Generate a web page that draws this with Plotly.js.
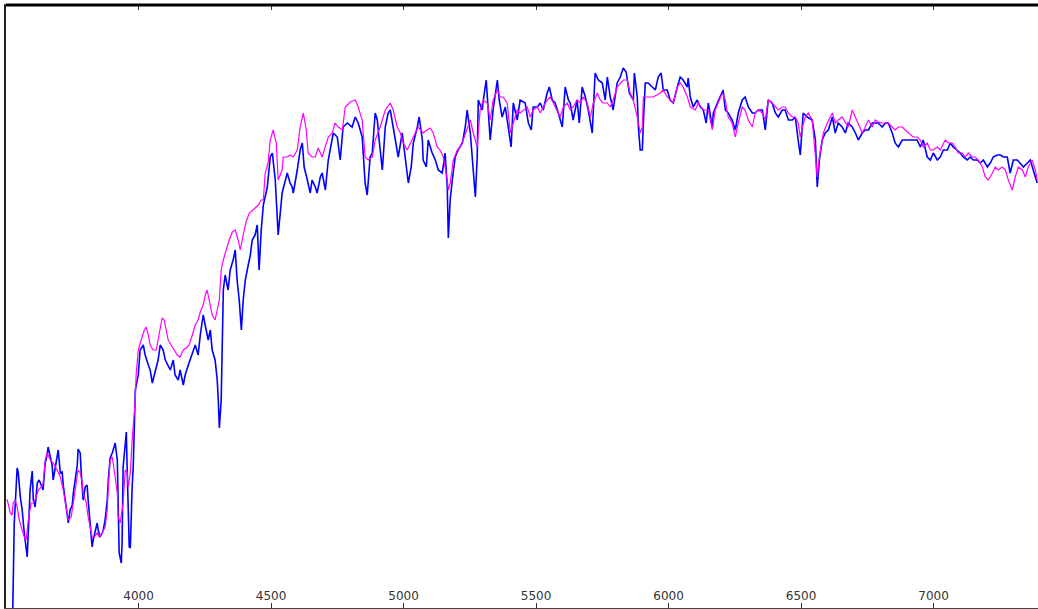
<!DOCTYPE html>
<html>
<head>
<meta charset="utf-8">
<script src="https://cdn.plot.ly/plotly-3.0.1.min.js"></script>
<style>html,body{margin:0;padding:0;background:#fff;}#chart{width:1038px;height:609px;}</style>
</head>
<body>
<div id="chart"></div>
<script>
// Observed spectrum (blue): wavelength (Angstrom) and relative flux (arbitrary units)
const obsWave = [3523,3527,3531,3542,3546,3554,3561,3569,3580,3584,3591,3599,3603,3610,3618,3625,3637,3640,3648,3655,3659,3667,3674,3678,3686,3693,3697,3705,3712,3716,3723,3731,3735,3742,3750,3754,3761,3769,3772,3780,3784,3791,3799,3806,3810,3818,3825,3829,3837,3844,3848,3855,3863,3867,3874,3882,3886,3893,3901,3905,3912,3920,3923,3927,3935,3938,3942,3950,3954,3957,3961,3965,3969,3972,3976,3980,3984,3988,3999,4006,4018,4025,4037,4044,4052,4063,4074,4082,4093,4101,4112,4120,4131,4138,4150,4157,4169,4176,4188,4195,4206,4214,4225,4233,4244,4252,4263,4271,4278,4289,4297,4301,4305,4312,4320,4327,4338,4346,4357,4365,4372,4380,4388,4395,4403,4414,4422,4429,4440,4448,4455,4463,4471,4486,4497,4505,4516,4527,4535,4542,4561,4572,4580,4584,4599,4610,4618,4625,4637,4648,4655,4667,4674,4686,4693,4705,4716,4727,4735,4750,4761,4772,4788,4806,4818,4829,4844,4855,4863,4874,4882,4893,4901,4908,4920,4931,4942,4950,4961,4976,4980,4995,5006,5018,5029,5037,5052,5059,5071,5074,5086,5093,5108,5120,5131,5146,5157,5165,5169,5176,5184,5195,5206,5222,5233,5240,5252,5263,5271,5278,5282,5297,5301,5312,5320,5327,5338,5354,5361,5372,5384,5395,5406,5414,5429,5440,5459,5471,5482,5489,5505,5516,5527,5542,5550,5561,5572,5584,5599,5610,5622,5629,5640,5655,5663,5674,5686,5697,5712,5723,5735,5750,5761,5769,5780,5791,5806,5818,5829,5840,5852,5867,5871,5882,5886,5893,5901,5905,5912,5923,5938,5950,5961,5972,5980,5995,6006,6018,6033,6044,6055,6071,6074,6082,6093,6108,6120,6131,6142,6150,6165,6169,6184,6195,6206,6214,6225,6240,6252,6263,6278,6289,6301,6316,6327,6338,6354,6365,6376,6391,6403,6414,6429,6440,6452,6467,6478,6489,6497,6508,6523,6542,6554,6561,6569,6580,6591,6603,6618,6629,6640,6655,6667,6678,6693,6705,6716,6731,6742,6754,6769,6780,6791,6806,6818,6829,6844,6855,6867,6882,6893,6912,6923,6938,6950,6961,6976,6988,6999,7014,7025,7037,7052,7063,7074,7089,7101,7112,7127,7138,7150,7165,7176,7188,7203,7214,7225,7240,7252,7263,7278,7289,7301,7316,7327,7339,7354,7365,7376,7391];
const obsFlux = [-42,16,84,140,136,111,98,75,51,75,118,137,108,101,125,128,120,118,145,153,161,150,143,128,141,155,158,135,136,123,108,88,85,98,103,115,131,143,159,155,135,108,121,123,108,81,61,68,78,85,78,71,75,78,88,108,128,150,155,158,165,148,91,55,45,65,141,168,176,141,108,61,60,101,121,141,171,218,233,258,263,253,243,238,225,238,248,263,258,248,243,238,248,233,228,238,223,233,243,248,258,263,253,273,293,283,268,278,258,248,228,208,180,208,318,333,318,338,348,358,328,308,278,308,328,343,353,368,373,383,338,378,403,421,451,455,428,373,398,415,435,425,421,415,438,458,465,441,428,415,428,421,415,431,435,418,448,465,475,471,448,481,485,481,491,485,471,425,413,451,455,495,488,468,438,481,495,498,481,461,451,475,451,425,441,465,481,491,468,448,441,468,455,448,438,435,455,421,370,408,428,451,458,465,481,498,475,438,411,451,508,498,508,528,501,468,498,528,508,491,501,481,461,505,488,508,505,485,478,501,501,505,498,515,521,508,505,495,481,521,508,505,488,508,485,521,511,498,475,535,528,525,508,531,511,498,525,531,540,536,515,508,535,511,481,458,458,485,525,525,521,518,531,535,518,518,508,505,521,531,528,521,530,511,501,508,501,498,485,505,481,495,505,511,518,498,495,488,478,495,508,511,501,495,495,498,498,478,508,505,495,491,498,498,488,488,491,468,453,495,491,488,468,421,448,468,475,478,491,475,485,481,475,485,481,475,468,475,478,478,485,485,485,481,485,485,475,465,461,468,468,468,468,468,461,468,451,448,455,448,451,458,458,465,461,458,455,451,448,451,448,448,445,448,441,445,451,453,453,451,451,435,448,448,445,441,445,448,438,425];

// Model / template spectrum (magenta)
const modelWave = [3501,3505,3516,3523,3527,3535,3542,3550,3561,3569,3576,3584,3595,3603,3614,3622,3633,3640,3648,3655,3667,3678,3693,3705,3716,3723,3731,3735,3746,3754,3761,3769,3772,3780,3788,3791,3803,3810,3818,3825,3833,3844,3852,3863,3874,3882,3886,3893,3901,3905,3912,3920,3923,3931,3942,3950,3957,3961,3969,3976,3980,3988,3991,3999,4010,4022,4029,4037,4044,4055,4067,4074,4082,4089,4097,4105,4112,4123,4135,4146,4157,4169,4180,4191,4203,4214,4225,4233,4244,4252,4259,4267,4278,4289,4297,4305,4312,4320,4331,4342,4354,4365,4376,4384,4395,4406,4418,4429,4440,4452,4463,4471,4478,4489,4497,4508,4520,4527,4542,4546,4561,4572,4584,4599,4610,4622,4633,4640,4655,4667,4678,4693,4705,4716,4731,4742,4754,4769,4780,4799,4818,4829,4844,4855,4867,4882,4893,4912,4931,4950,4961,4976,4988,4999,5014,5025,5037,5055,5074,5089,5101,5112,5127,5138,5150,5165,5169,5176,5188,5203,5214,5225,5240,5252,5263,5278,5289,5301,5316,5327,5338,5354,5365,5376,5391,5403,5414,5429,5440,5452,5467,5478,5489,5505,5516,5527,5542,5554,5565,5580,5591,5603,5618,5629,5640,5655,5667,5678,5693,5705,5716,5731,5742,5754,5769,5780,5791,5806,5818,5829,5844,5855,5867,5882,5893,5901,5905,5920,5942,5969,5980,5995,6006,6018,6033,6044,6055,6071,6082,6101,6112,6131,6150,6165,6176,6188,6203,6214,6225,6240,6252,6263,6278,6289,6301,6316,6327,6338,6354,6365,6376,6391,6403,6414,6429,6440,6452,6467,6478,6489,6497,6505,6516,6527,6542,6554,6561,6569,6584,6599,6618,6629,6640,6655,6667,6678,6693,6705,6716,6731,6742,6754,6769,6780,6791,6806,6818,6829,6844,6855,6867,6882,6893,6905,6923,6938,6950,6961,6976,6988,6999,7014,7025,7044,7055,7071,7082,7093,7108,7120,7131,7146,7157,7169,7184,7195,7206,7222,7233,7244,7259,7271,7282,7297,7308,7320,7335,7346,7357,7372,7384,7391];
const modelFlux = [108,108,95,93,105,108,101,88,78,71,68,88,105,105,111,118,121,125,148,155,148,145,138,131,118,105,91,88,91,105,121,135,138,135,125,115,105,91,78,71,71,75,71,75,81,98,121,148,151,145,131,115,91,85,105,138,135,121,135,168,181,208,233,258,268,278,281,273,263,258,258,268,283,290,288,278,268,263,258,253,251,258,260,263,273,283,288,296,303,313,318,308,293,288,298,308,338,348,358,368,376,378,368,358,373,386,395,398,400,403,408,408,435,445,468,478,465,428,438,451,451,453,451,458,481,495,478,455,451,451,460,451,461,471,475,485,481,478,501,506,508,501,488,451,448,451,468,481,498,505,498,481,475,465,458,465,471,481,475,478,480,475,461,458,451,428,418,425,448,458,461,468,478,488,475,461,498,508,505,488,508,518,511,511,505,475,485,498,495,498,501,491,498,501,495,501,508,511,505,498,491,501,505,498,501,508,505,511,505,491,505,515,508,505,505,501,508,521,525,528,528,515,508,491,475,481,511,511,511,515,518,511,508,505,521,525,521,511,501,498,505,498,498,478,498,505,515,508,491,485,471,485,501,498,488,481,495,498,495,488,508,505,501,498,501,501,495,491,491,485,471,481,491,495,488,451,431,451,475,485,495,485,488,491,485,481,498,491,485,475,481,488,481,488,486,485,485,485,481,478,481,481,478,475,471,471,468,461,465,458,458,461,458,468,465,465,461,455,455,451,455,451,451,448,441,431,428,435,441,438,441,438,428,418,431,441,438,431,441,448,438,428];

const xTicks = [4000, 4500, 5000, 5500, 6000, 6500, 7000];

const traces = [
  {x: obsWave, y: obsFlux, type: 'scatter', mode: 'lines', name: 'observed',
   line: {color: '#0000ff', width: 1.6}, hoverinfo: 'x+y'},
  {x: modelWave, y: modelFlux, type: 'scatter', mode: 'lines', name: 'template',
   line: {color: '#ff00ff', width: 1.2}, hoverinfo: 'x+y'}
];

const layout = {
  width: 1038, height: 609,
  margin: {l: 6, r: 0, t: 5, b: 1, pad: 0},
  paper_bgcolor: '#ffffff', plot_bgcolor: '#ffffff',
  showlegend: false,
  font: {family: 'DejaVu Sans, sans-serif', size: 12, color: '#333333'},
  xaxis: {
    range: [3500, 7394], tickvals: xTicks, ticktext: xTicks.map(String),
    ticks: 'inside', ticklen: 5, tickwidth: 1, tickcolor: '#333333',
    ticklabelposition: 'inside', showgrid: false, zeroline: false,
    showline: true, linecolor: '#444444', linewidth: 1, mirror: 'ticks',
    tickfont: {family: 'DejaVu Sans, sans-serif', size: 12, color: '#333333'}
  },
  yaxis: {
    range: [0, 603], showticklabels: false, ticks: '', showgrid: false,
    zeroline: false, showline: true, linecolor: '#222222', linewidth: 2
  },
  shapes: [
    {type: 'line', xref: 'paper', yref: 'paper', x0: 0, x1: 1, y0: 1, y1: 1,
     line: {color: '#000000', width: 3}}
  ]
};

Plotly.newPlot('chart', traces, layout, {displayModeBar: false, staticPlot: true});
</script>
</body>
</html>
